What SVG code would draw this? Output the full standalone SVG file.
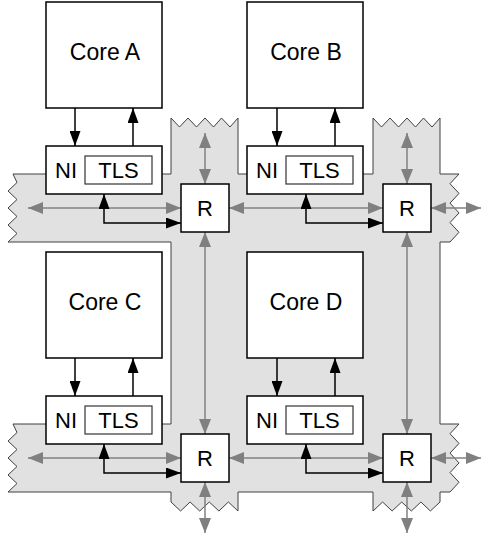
<svg xmlns="http://www.w3.org/2000/svg" width="481" height="539" viewBox="0 0 481 539">
<style>
.box{fill:#fff;stroke:#000;stroke-width:1.5}
.tls{fill:#fff;stroke:#333;stroke-width:1.2}
.t{font-family:"Liberation Sans",Arial,sans-serif;font-size:22px;fill:#000}
.core{font-size:23px}
.c{text-anchor:middle}
.blk{fill:none;stroke:#000;stroke-width:1.5}
.gry{fill:none;stroke:#808080;stroke-width:1.5}
.band{fill:#e1e1e1;stroke:#404040;stroke-width:1}
</style>
<defs>
<marker id="ab" markerWidth="15" markerHeight="11" refX="15" refY="5.5" orient="auto-start-reverse" markerUnits="userSpaceOnUse"><path d="M0,0 L15,5.5 L0,11 z" fill="#000"/></marker>
<marker id="ag" markerWidth="15" markerHeight="12" refX="15" refY="6" orient="auto-start-reverse" markerUnits="userSpaceOnUse"><path d="M0,0 L15,6 L0,12 z" fill="#808080"/></marker>
</defs>
<g id="network">
<path class="band" d="M13,174 L171,174 L171,118 L179.5,127 L188,118 L196.5,127 L205,118 L213.5,127 L221.5,118 L230,127 L238,118 L238,174 L373,174 L373,118 L381.5,127 L390,118 L398.5,127 L407,118 L415.5,127 L423.5,118 L432,127 L440,118 L440,174 L459,174 L450,183.7 L459,193.4 L450,203.1 L459,212.9 L450,222.6 L459,232.3 L450,242 L440,242 L440,424 L459,424 L450,433.7 L459,443.4 L450,453.1 L459,462.9 L450,472.6 L459,482.3 L450,492 L440,492 L440,502 L430.4,511 L420.9,502 L411.3,511 L401.7,502 L392.1,511 L382.6,502 L373,511 L373,492 L238,492 L238,511 L228.4,502 L218.9,511 L209.3,502 L199.7,511 L190.1,502 L180.6,511 L171,502 L171,492 L8,492 L17,483.5 L8,475 L17,466.5 L8,458 L17,449.5 L8,441 L17,432.5 L13,424 L171,424 L171,242 L8,242 L17,233.5 L8,225 L17,216.5 L8,208 L17,199.5 L8,191 L17,182.5 Z"/>
</g>
<g id="connectors">
<line class="gry" x1="28" y1="208" x2="181" y2="208" marker-start="url(#ag)" marker-end="url(#ag)"/>
<line class="gry" x1="229" y1="208" x2="383" y2="208" marker-start="url(#ag)" marker-end="url(#ag)"/>
<line class="gry" x1="431" y1="208" x2="481" y2="208" marker-start="url(#ag)" marker-end="url(#ag)"/>
<line class="gry" x1="28" y1="458" x2="181" y2="458" marker-start="url(#ag)" marker-end="url(#ag)"/>
<line class="gry" x1="229" y1="458" x2="383" y2="458" marker-start="url(#ag)" marker-end="url(#ag)"/>
<line class="gry" x1="431" y1="458" x2="481" y2="458" marker-start="url(#ag)" marker-end="url(#ag)"/>
<line class="gry" x1="205" y1="133" x2="205" y2="184" marker-start="url(#ag)" marker-end="url(#ag)"/>
<line class="gry" x1="205" y1="232" x2="205" y2="434" marker-start="url(#ag)" marker-end="url(#ag)"/>
<line class="gry" x1="205" y1="482" x2="205" y2="533" marker-start="url(#ag)" marker-end="url(#ag)"/>
<line class="gry" x1="407" y1="133" x2="407" y2="184" marker-start="url(#ag)" marker-end="url(#ag)"/>
<line class="gry" x1="407" y1="232" x2="407" y2="434" marker-start="url(#ag)" marker-end="url(#ag)"/>
<line class="gry" x1="407" y1="482" x2="407" y2="533" marker-start="url(#ag)" marker-end="url(#ag)"/>
<path class="blk" d="M104,194 L104,223 L181,223" marker-start="url(#ab)" marker-end="url(#ab)"/>
<path class="blk" d="M306,194 L306,223 L383,223" marker-start="url(#ab)" marker-end="url(#ab)"/>
<path class="blk" d="M104,444 L104,473 L181,473" marker-start="url(#ab)" marker-end="url(#ab)"/>
<path class="blk" d="M306,444 L306,473 L383,473" marker-start="url(#ab)" marker-end="url(#ab)"/>
<line class="blk" x1="75" y1="108" x2="75" y2="146" marker-end="url(#ab)"/>
<line class="blk" x1="133" y1="146" x2="133" y2="108" marker-end="url(#ab)"/>
<line class="blk" x1="277" y1="108" x2="277" y2="146" marker-end="url(#ab)"/>
<line class="blk" x1="335" y1="146" x2="335" y2="108" marker-end="url(#ab)"/>
<line class="blk" x1="75" y1="358" x2="75" y2="396" marker-end="url(#ab)"/>
<line class="blk" x1="133" y1="396" x2="133" y2="358" marker-end="url(#ab)"/>
<line class="blk" x1="277" y1="358" x2="277" y2="396" marker-end="url(#ab)"/>
<line class="blk" x1="335" y1="396" x2="335" y2="358" marker-end="url(#ab)"/>
</g>
<g id="coreA"><rect class="box" x="46" y="2" width="116" height="106"/><text class="t core c" x="105" y="60">Core A</text></g>
<g id="coreB"><rect class="box" x="247" y="2" width="116" height="106"/><text class="t core c" x="306" y="60">Core B</text></g>
<g id="coreC"><rect class="box" x="46" y="252" width="116" height="106"/><text class="t core c" x="105" y="310">Core C</text></g>
<g id="coreD"><rect class="box" x="247" y="252" width="116" height="106"/><text class="t core c" x="306" y="310">Core D</text></g>
<g id="niA"><rect class="box" x="46" y="146" width="116" height="48"/><text class="t" x="55" y="178">NI</text><rect class="tls" x="85" y="156" width="67" height="28"/><text class="t c" x="118.5" y="178">TLS</text></g>
<g id="niB"><rect class="box" x="247" y="146" width="116" height="48"/><text class="t" x="256" y="178">NI</text><rect class="tls" x="286" y="156" width="67" height="28"/><text class="t c" x="319.5" y="178">TLS</text></g>
<g id="niC"><rect class="box" x="46" y="396" width="116" height="48"/><text class="t" x="55" y="428">NI</text><rect class="tls" x="85" y="406" width="67" height="28"/><text class="t c" x="118.5" y="428">TLS</text></g>
<g id="niD"><rect class="box" x="247" y="396" width="116" height="48"/><text class="t" x="256" y="428">NI</text><rect class="tls" x="286" y="406" width="67" height="28"/><text class="t c" x="319.5" y="428">TLS</text></g>
<g id="rA"><rect class="box" x="181" y="184" width="48" height="48"/><text class="t c" x="205" y="216">R</text></g>
<g id="rB"><rect class="box" x="383" y="184" width="48" height="48"/><text class="t c" x="407" y="216">R</text></g>
<g id="rC"><rect class="box" x="181" y="434" width="48" height="48"/><text class="t c" x="205" y="466">R</text></g>
<g id="rD"><rect class="box" x="383" y="434" width="48" height="48"/><text class="t c" x="407" y="466">R</text></g>
</svg>
